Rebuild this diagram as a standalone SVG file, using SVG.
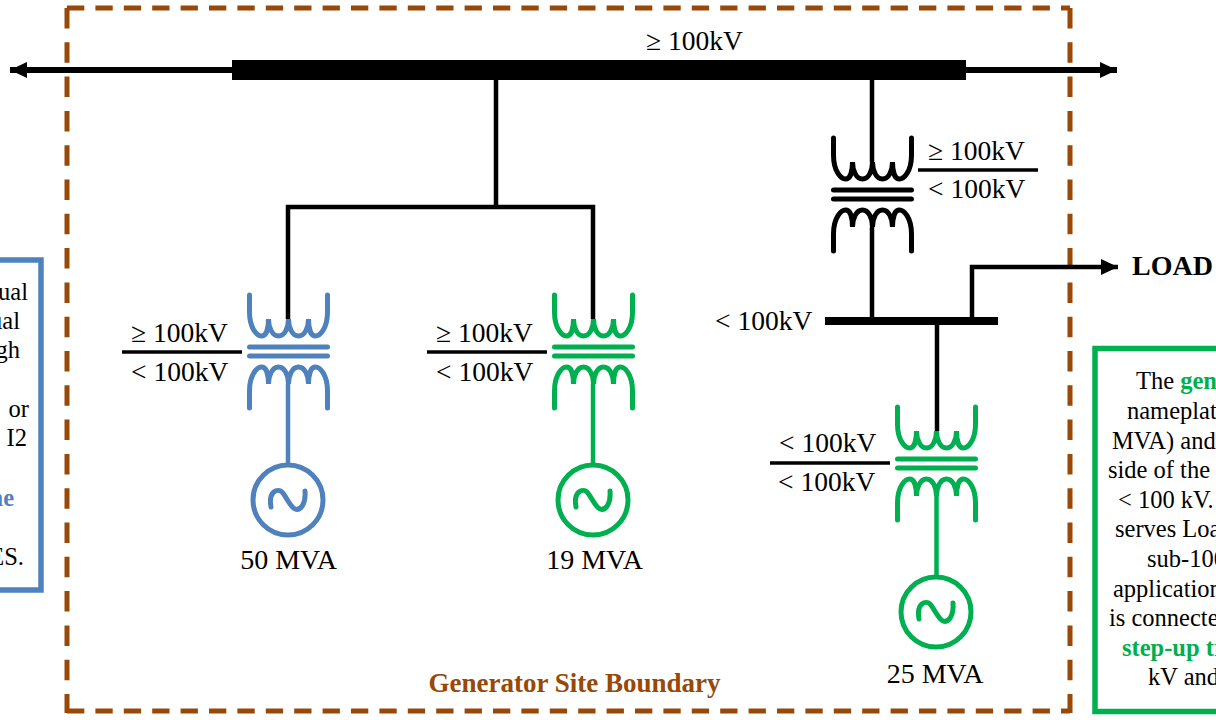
<svg xmlns="http://www.w3.org/2000/svg" xmlns:xlink="http://www.w3.org/1999/xlink" width="1216" height="720" viewBox="0 0 1216 720">
<style>
text{font-family:"Liberation Serif","Times New Roman",serif;font-size:27.5px;fill:#000}
.m{font-size:28px}
.n{font-size:24.5px}
.bl{fill:#4f81bd;font-weight:bold}
.gr{fill:#00b050;font-weight:bold}
.w{fill:none;stroke:currentColor;stroke-width:5;stroke-linecap:round}
.c{fill:none;stroke:#000;stroke-width:4.5}
.t{fill:none;stroke:#000;stroke-width:6}
.div{stroke:#000;stroke-width:3.5}
.h{stroke:#984807;stroke-width:5;stroke-dasharray:17.3 11.1;fill:none}
.v{stroke:#984807;stroke-width:5;stroke-dasharray:20.5 13.8;fill:none}
</style>
<defs>
<marker id="a" markerUnits="userSpaceOnUse" markerWidth="18" markerHeight="18" refX="17" refY="8" orient="auto-start-reverse"><path d="M0 0L17 8L0 16Z" fill="#000"/></marker>
<g id="tx">
<path class="w" d="M-39 295V312C-39 329-31 336-27 336C-22 336-20 328-20 319C-20 328-16 336-10 336C-4 336 0 328 0 319C0 328 4 336 10 336C16 336 20 328 20 319C20 328 22 336 27 336C31 336 39 329 39 312V295"/>
<path class="w" d="M-39 408V391C-39 374-31 367-27 367C-22 367-20 375-20 384C-20 375-16 367-10 367C-4 367 0 375 0 384C0 375 4 367 10 367C16 367 20 375 20 384C20 375 22 367 27 367C31 367 39 374 39 391V408"/>
<path class="w" d="M-39 347H39M-39 356H39"/>
</g>
<g id="gen">
<circle class="w" cx="0" cy="500" r="35"/>
<path class="w" d="M-17 507C-20 491-10 488-6 492C-2 496 2 507 7 509C13 511 18 503 17 491"/>
</g>
</defs>
<g id="boundary">
<path class="h" d="M67 8H1070"/>
<path class="v" d="M67 8V713"/>
<path class="v" d="M1070 8V713"/>
<path class="h" d="M67 711H1070"/>
<text x="574.500" y="692" text-anchor="middle" style="fill:#984807;font-weight:bold;font-size:27px">Generator Site Boundary</text>
</g>
<g id="connectors">
<path class="t" d="M232 70H10" marker-end="url(#a)"/>
<path class="t" d="M966 70H1117" marker-end="url(#a)"/>
<path class="c" d="M496 80V207M288 319V207H593V319M872 80V162M872 227V321"/>
<path class="c" d="M972 321V267H1118" marker-end="url(#a)"/>
<path class="c" d="M937 325V431"/>
<path d="M288 384V463" style="fill:none;stroke:#4f81bd;stroke-width:4.500"/>
<path d="M593 384V463" style="fill:none;stroke:#00b050;stroke-width:4.500"/>
<path d="M936.500 496V577" style="fill:none;stroke:#00b050;stroke-width:4.500"/>
</g>
<g id="bus-main"><rect x="232" y="60" width="734" height="20"/><text x="646" y="50">≥ 100kV</text></g>
<g id="bus-low"><rect x="825" y="317" width="173" height="8"/><text x="715" y="330">&lt; 100kV</text></g>
<g id="load"><text x="1132" y="275" style="font-weight:bold;font-size:28px">LOAD</text></g>
<g id="t-50" color="#4f81bd"><use href="#tx" x="288.500"/><use href="#gen" x="288"/><line class="div" x1="122" y1="352" x2="242" y2="352"/><text x="131" y="342">≥ 100kV</text><text x="131" y="381">&lt; 100kV</text><text class="m" x="288.500" y="569" text-anchor="middle">50 MVA</text></g>
<g id="t-19" color="#00b050"><use href="#tx" x="593.500"/><use href="#gen" x="593"/><line class="div" x1="427" y1="352" x2="547" y2="352"/><text x="436" y="342">≥ 100kV</text><text x="436" y="381">&lt; 100kV</text><text class="m" x="594.500" y="569" text-anchor="middle">19 MVA</text></g>
<g id="t-25" color="#00b050"><use href="#tx" x="936.500" y="112"/><use href="#gen" x="936" y="112"/><line class="div" x1="770" y1="463" x2="890" y2="463"/><text x="779" y="452">&lt; 100kV</text><text x="778" y="491">&lt; 100kV</text><text class="m" x="935" y="683" text-anchor="middle">25 MVA</text></g>
<g id="t-up" color="#000"><use href="#tx" x="872.500" y="-157"/><line class="div" x1="918" y1="170" x2="1038" y2="170"/><text x="928" y="160">≥ 100kV</text><text x="928" y="198">&lt; 100kV</text></g>
<g id="note-left">
<rect x="-10" y="260" width="51" height="330" fill="none" stroke="#4f81bd" stroke-width="5.500"/>
<text class="n" x="28" y="300" text-anchor="end">ual</text>
<text class="n" x="20" y="329" text-anchor="end">ual</text>
<text class="n" x="20" y="358" text-anchor="end">gh</text>
<text class="n" x="29" y="417" text-anchor="end">or</text>
<text class="n" x="27" y="446" text-anchor="end">I2</text>
<text class="n bl" x="14" y="506" text-anchor="end">ne</text>
<text class="n" x="24" y="565" text-anchor="end">ES.</text>
</g>
<g id="note-right">
<rect x="1095" y="348.500" width="140" height="363" fill="none" stroke="#00b050" stroke-width="5.500"/>
<text class="n" x="1136" y="389">The <tspan class="gr">gen</tspan></text>
<text class="n" x="1127" y="419">nameplat</text>
<text class="n" x="1112" y="449">MVA) and</text>
<text class="n" x="1108" y="478">side of the</text>
<text class="n" x="1118" y="508">&lt; 100 kV.</text>
<text class="n" x="1115" y="537">serves Loa</text>
<text class="n" x="1147" y="567">sub-100</text>
<text class="n" x="1113" y="597">application</text>
<text class="n" x="1109" y="626">is connecte</text>
<text class="n gr" x="1122" y="656">step-up tr</text>
<text class="n" x="1148" y="685">kV and</text>
</g>
</svg>
